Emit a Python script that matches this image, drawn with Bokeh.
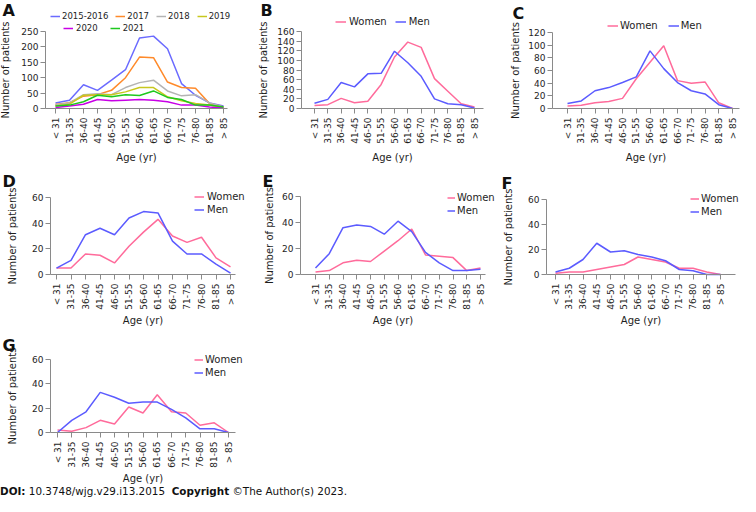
import math
from bokeh.plotting import figure
from bokeh.models import Range1d, FixedTicker, Legend, LegendItem, Label, Div
from bokeh.layouts import column, row
from bokeh.embed import file_html
from bokeh.resources import INLINE

# ---------------- data ----------------
ages = ["< 31", "31-35", "36-40", "41-45", "46-50", "51-55", "56-60",
        "61-65", "66-70", "71-75", "76-80", "81-85", "> 85"]

# Panel A: patients per year group
a_2015_2016 = [18, 27, 77, 59, 92, 126, 229, 235, 194, 81, 43, 18, 8]
a_2017 = [13, 19, 40, 45, 59, 100, 167, 165, 86, 68, 66, 16, 5]
a_2018 = [11, 18, 45, 48, 45, 68, 84, 92, 57, 41, 45, 18, 5]
a_2019 = [8, 14, 43, 45, 45, 54, 68, 68, 38, 25, 16, 11, 3]
a_2020 = [3, 8, 14, 29, 25, 27, 29, 27, 22, 11, 11, 5, 2]
a_2021 = [8, 11, 22, 43, 38, 45, 42, 57, 36, 29, 11, 11, 5]

b_women = [6, 8, 21, 12, 15, 50, 107, 138, 127, 62, 36, 10, 3]
b_men = [11, 19, 54, 45, 72, 73, 119, 95, 67, 20, 10, 8, 1]

c_women = [4, 5, 9, 11, 16, 47, 73, 99, 44, 40, 42, 9, 0]
c_men = [8, 12, 28, 33, 41, 50, 91, 63, 41, 28, 23, 6, 0]

d_women = [5, 5, 16, 15, 9, 22, 33, 43, 30, 25, 29, 13, 6]
d_men = [5, 11, 31, 36, 31, 44, 49, 48, 26, 16, 16, 8, 1]

e_women = [2, 3, 9, 11, 10, 18, 26, 35, 15, 14, 13, 3, 5]
e_men = [5, 16, 36, 38, 37, 31, 41, 33, 17, 9, 3, 3, 4]

f_women = [1, 2, 2, 4, 6, 8, 14, 12, 10, 5, 5, 2, 0]
f_men = [2, 5, 12, 25, 18, 19, 16, 14, 11, 4, 3, 0, 0]

g_women = [2, 1, 4, 10, 7, 21, 16, 31, 17, 16, 6, 8, 0]
g_men = [0, 10, 17, 33, 29, 24, 25, 25, 19, 12, 3, 3, 0]

year_names = ["2015-2016", "2017", "2018", "2019", "2020", "2021"]

# ---------------- style ----------------
FONT = "DejaVu Sans"
AXIS = "#8a8a8a"
INK = "#1e1e1e"
C_WOMEN = "#ff6b9b"
C_MEN = "#5b5bff"
YEAR_COLORS = ["#6b6bff", "#ff8a2a", "#b4b4b4", "#c8c81e", "#c800e6", "#1ec81e"]
LETTER_SHIFT = 5  # correction for label baseline placement


def panel(letter, series, y_max, y_step, W, H, geo, letter_xy, ylab_standoff,
          xlab_standoff, legends):
    """geo: pixel layout inside the figure (axis x, first/last category x,
    x-axis end, data-top y, zero y) measured from the figure's top-left."""
    ax_x, first, last, x_end, y_top, y_zero = geo
    n = len(ages)
    step = (last - first) / (n - 1)
    scale = (y_zero - y_top) / y_max

    def xd(px):
        return (px - first) / step

    p = figure(width=W, height=H,
               x_range=Range1d(xd(0), xd(W)),
               y_range=Range1d(-(H - y_zero) / scale, y_max + y_top / scale),
               output_backend="svg", toolbar_location=None, tools="",
               min_border=0, min_border_left=0, min_border_right=0,
               min_border_top=0, min_border_bottom=0, title=None)
    p.outline_line_color = None
    p.background_fill_color = "white"
    p.border_fill_color = "white"
    p.xgrid.visible = False
    p.ygrid.visible = False

    xs = list(range(n))
    rends = []
    for name, vals, color in series:
        r = p.line(xs, vals, line_color=color, line_width=1.5)
        rends.append((name, r))

    for ax in (p.xaxis[0], p.yaxis[0]):
        ax.axis_line_color = AXIS
        ax.major_tick_line_color = AXIS
        ax.minor_tick_line_color = None
        ax.major_tick_out = 5
        ax.major_tick_in = 0
        ax.major_label_text_font = FONT
        ax.major_label_text_font_size = "9px"
        ax.major_label_text_color = INK
        ax.axis_label_text_font = FONT
        ax.axis_label_text_font_size = "10px"
        ax.axis_label_text_font_style = "normal"
        ax.axis_label_text_color = INK

    xa = p.xaxis[0]
    xa.ticker = FixedTicker(ticks=xs)
    xa.major_label_overrides = {i: a for i, a in enumerate(ages)}
    xa.major_label_orientation = math.pi / 2
    xa.major_label_standoff = 4
    xa.axis_label = "Age (yr)"
    xa.axis_label_standoff = xlab_standoff
    xa.fixed_location = 0
    xa.bounds = (xd(ax_x), xd(x_end))

    ya = p.yaxis[0]
    ya.ticker = FixedTicker(ticks=list(range(0, y_max + 1, y_step)))
    ya.major_label_standoff = 2
    ya.axis_label = "Number of patients"
    ya.axis_label_standoff = ylab_standoff
    ya.fixed_location = xd(ax_x)
    ya.bounds = (0, y_max)

    for spec in legends:
        ih = spec["ih"]
        sp = spec["sp"]
        k = len(spec["idx"])
        top = spec["cy"] - ih / 2
        height = ih if spec["orient"] == "horizontal" else k * ih + (k - 1) * sp
        items = [LegendItem(label=rends[i][0], renderers=[rends[i][1]]) for i in spec["idx"]]
        lg = Legend(items=items, location=(spec["x"], H - top - height),
                    orientation=spec["orient"],
                    label_text_font=FONT, label_text_font_size=spec["fs"],
                    label_text_line_height=1.0,
                    label_text_color=INK, glyph_width=spec["gw"], glyph_height=ih,
                    label_height=ih, label_width=0, label_standoff=spec["st"],
                    spacing=sp, padding=0, margin=0, border_line_color=None,
                    background_fill_alpha=0)
        p.add_layout(lg)

    lx, ly = letter_xy
    p.add_layout(Label(x=lx, y=H - ly + LETTER_SHIFT, x_units="screen", y_units="screen",
                       text=letter, text_font=FONT, text_font_size="16px",
                       text_font_style="bold", text_color="#111111",
                       text_baseline="alphabetic", text_align="left"))
    return p


def sex_series(w, m):
    return [("Women", w, C_WOMEN), ("Men", m, C_MEN)]


year_vals = [a_2015_2016, a_2017, a_2018, a_2019, a_2020, a_2021]
a_series = list(zip(year_names, year_vals, YEAR_COLORS))

ROW1_H, ROW2_H, ROW3_H = 165, 163, 158

pA = panel("A", a_series, 250, 50, 250, ROW1_H, (45, 55, 223, 227, 31, 108), (2, 15), 7, 5, [
    dict(idx=[0, 1, 2, 3], x=50, cy=16, ih=10, sp=7, gw=10, st=2, fs="8.5px", orient="horizontal"),
    dict(idx=[4, 5], x=63, cy=28, ih=10, sp=12, gw=10, st=3, fs="8.5px", orient="horizontal"),
])
pB = panel("B", sex_series(b_women, b_men), 160, 20, 250, ROW1_H, (51, 64, 224, 233, 31, 108), (10, 15), 5, 5, [
    dict(idx=[0, 1], x=85, cy=21, ih=13, sp=8, gw=11, st=3, fs="10px", orient="horizontal"),
])
pC = panel("C", sex_series(c_women, c_men), 120, 20, 240, ROW1_H, (52, 67, 232, 239, 32, 108), (12, 18), 4, 5, [
    dict(idx=[0, 1], x=107, cy=25, ih=13, sp=10, gw=11, st=2, fs="10px", orient="horizontal"),
])
pD = panel("D", sex_series(d_women, d_men), 60, 20, 250, ROW2_H, (50, 56, 230, 235, 32, 109), (2, 21), 11, 2, [
    dict(idx=[0, 1], x=194, cy=34, ih=13, sp=-3, gw=10, st=3, fs="10px", orient="vertical"),
])
pE = panel("E", sex_series(e_women, e_men), 60, 20, 250, ROW2_H, (50, 65, 230, 235, 31, 109), (12, 21), 4, 2, [
    dict(idx=[0, 1], x=197, cy=35, ih=13, sp=-3, gw=8, st=2, fs="10px", orient="vertical"),
])
pF = panel("F", sex_series(f_women, f_men), 60, 20, 240, ROW2_H, (46, 55, 220, 235, 34, 109), (1, 23), 11, 2, [
    dict(idx=[0, 1], x=190, cy=36, ih=13, sp=-3, gw=9, st=2, fs="10px", orient="vertical"),
])
pG = panel("G", sex_series(g_women, g_men), 60, 20, 250, ROW3_H, (50, 57, 228, 235, 31, 104), (2, 22), 11, 2, [
    dict(idx=[0, 1], x=194, cy=34, ih=13, sp=-3, gw=9, st=2, fs="10px", orient="vertical"),
])

footer = Div(text='<b>DOI:</b> 10.3748/wjg.v29.i13.2015&nbsp;&nbsp;<b>Copyright</b> &copy;The Author(s) 2023.',
             width=740, height=10, margin=(0, 0, 0, 0),
             styles={"font-family": FONT, "font-size": "10.4px", "color": "#111111",
                     "line-height": "10px", "white-space": "nowrap"})

layout = column(row(pA, pB, pC), row(pD, pE, pF), row(pG), footer)

with open("out.html", "w") as f:
    f.write(file_html(layout, INLINE))
